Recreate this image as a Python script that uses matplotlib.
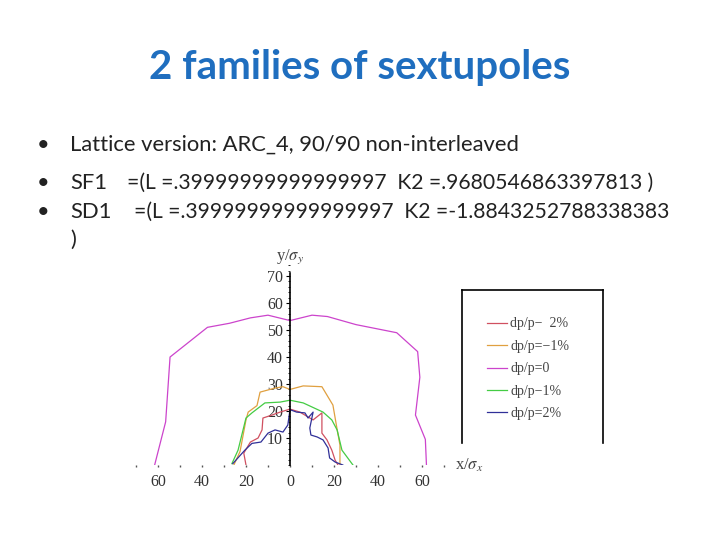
import numpy as np
import matplotlib
matplotlib.use("Agg")
import matplotlib.pyplot as plt
from matplotlib.lines import Line2D
from matplotlib.ticker import FuncFormatter, MultipleLocator

# dynamic aperture curves (x/sigma_x, y/sigma_y)
x_m2 = [-20, -21, -18, -14.5, -12.7, -12.3, -8.2, -4.5, 0, 4.5, 8.2, 10.5, 14.5, 14.5, 16.8, 19, 20.5, 21.8]
y_m2 = [0, 4.4, 8.5, 10, 13, 17.4, 18.5, 19.6, 20.7, 19.6, 17.8, 16.7, 19.3, 11.8, 9.3, 5.5, 1.8, 0]
x_m1 = [-25.5, -22.7, -20, -19, -15, -13.6, -6.8, -3.2, 0, 6, 14.5, 19.5, 21.3, 22.7, 22.7]
y_m1 = [0, 5, 16.7, 19.6, 22, 27, 28.5, 29, 28, 29.3, 29, 22.2, 13.7, 7.4, 0]
x_0 = [-61.5, -56.5, -54.5, -37.5, -27.5, -18, -10, 0, 10, 17, 30, 48.5, 58, 59, 57, 61.5, 62]
y_0 = [0, 16, 40, 51, 52.5, 54.5, 55.5, 53.5, 55.5, 55, 52, 49, 42, 32.5, 18.5, 9.5, 0]
x_p1 = [-26.4, -23.6, -20, -17.3, -11.4, -4.5, 0, 6, 15, 19, 21.4, 23.6, 28.6]
y_p1 = [0.5, 5.5, 17.4, 19.3, 23, 23.3, 24, 23, 19.6, 16.7, 13, 5.5, 0]
x_p2 = [-26, -20.5, -17.3, -13.2, -10, -6.8, -3.2, -1, 0, 3, 6.8, 8.2, 10.5, 9, 9.5, 12.3, 15, 17.3, 18, 20.5, 24]
y_p2 = [0.5, 5.5, 8, 8.5, 11.8, 13, 12.2, 14.8, 20.5, 19.6, 19.3, 17.4, 19.6, 13.7, 11.1, 10.4, 9.3, 6.3, 2.6, 1.1, 0]

labels = ["dp/p\u2212  2%", "dp/p=\u22121%", "dp/p=0", "dp/p\u22121%", "dp/p=2%"]
colors = ["#d05060", "#e0a040", "#cc44cc", "#44cc44", "#303098"]
series = [(x_m2, y_m2), (x_m1, y_m1), (x_0, y_0), (x_p1, y_p1), (x_p2, y_p2)]

plt.rcParams["mathtext.fontset"] = "stix"
W, H = 720, 540
fig = plt.figure(figsize=(7.2, 5.4), dpi=100)

def fx(px):
    return px / W

def fy(py):
    return 1 - py / H

# slide text
fig.text(fx(360), fy(68), "2 families of sextupoles", ha="center", va="center",
         fontsize=29, fontweight="bold", color="#1f6ebf", family="Lato")
body = dict(fontsize=15.8, color="#222222", family="Lato", va="center")
num = dict(body, fontsize=15.2)
for yy in (145, 183, 212):
    fig.text(fx(37), fy(yy), "\u2022", ha="left", **body)
fig.text(fx(70), fy(145), "Lattice version: ARC_4, 90/90 non-interleaved", **body)
fig.text(fx(70), fy(183), "SF1", **body)
fig.text(fx(127), fy(183), "=(L =.39999999999999997  K2 =.9680546863397813 )", **num)
fig.text(fx(70), fy(212), "SD1", **body)
fig.text(fx(134), fy(212), "=(L =.39999999999999997  K2 =-1.8843252788338383", **num)
fig.text(fx(70), fy(240), ")", **body)

# chart
ax = fig.add_axes([fx(130), fy(465), 320 / W, 203 / H])
for (xs, ys), c, lab in zip(series, colors, labels):
    ax.plot(xs, ys, color=c, lw=0.9, label=lab)
ax.set_xlim(-72.7, 72.7)
ax.set_ylim(0, 75.2)
ax.set_facecolor("none")
for s in ("top", "right", "bottom"):
    ax.spines[s].set_visible(False)
ax.spines["left"].set_position(("data", 0))
ax.spines["left"].set_bounds(0, 71)
ax.spines["left"].set_linewidth(1.2)
ax.set_xticks([-60, -40, -20, 0, 20, 40, 60])
ax.xaxis.set_minor_locator(MultipleLocator(10))
ax.xaxis.set_major_formatter(FuncFormatter(lambda v, p: f"{abs(v):.0f}"))
ax.set_yticks([10, 20, 30, 40, 50, 60, 70])
ax.yaxis.set_minor_locator(MultipleLocator(2))
ax.tick_params(axis="x", which="both", length=1.5, width=1, color="#555555",
               labelsize=11.5, pad=5)
ax.tick_params(axis="y", which="major", length=3, width=0.8, labelsize=11.5, pad=2)
ax.tick_params(axis="y", which="minor", length=1.5, width=0.6)
for t in ax.get_xticklabels() + ax.get_yticklabels():
    t.set_family("Liberation Serif")
    t.set_color("#333333")

fig.text(fx(290), fy(257), r"y/$\sigma_y$", ha="center", va="center",
         fontsize=12, family="Liberation Serif", color="#444444")
fig.text(fx(455), fy(465), r"x/$\sigma_x$", ha="left", va="center",
         fontsize=12, family="Liberation Serif", color="#444444")

# legend box (bottom edge cut off as in the picture)
lax = fig.add_axes([fx(462), fy(443), 141 / W, 153 / H])
lax.set_xticks([])
lax.set_yticks([])
lax.set_facecolor("none")
lax.spines["bottom"].set_visible(False)
for s in ("top", "left", "right"):
    lax.spines[s].set_linewidth(1.2)
handles = [Line2D([], [], color=c, lw=0.9) for c in colors]
leg = ax.legend(handles, labels, loc="upper left",
                bbox_to_anchor=(fx(474), fy(305)), bbox_transform=fig.transFigure,
                frameon=False, handlelength=1.5, handletextpad=0.2,
                labelspacing=0.68, prop={"family": "Liberation Serif", "size": 10})
for t in leg.get_texts():
    t.set_color("#444444")

fig.savefig("out.png", dpi=100)
